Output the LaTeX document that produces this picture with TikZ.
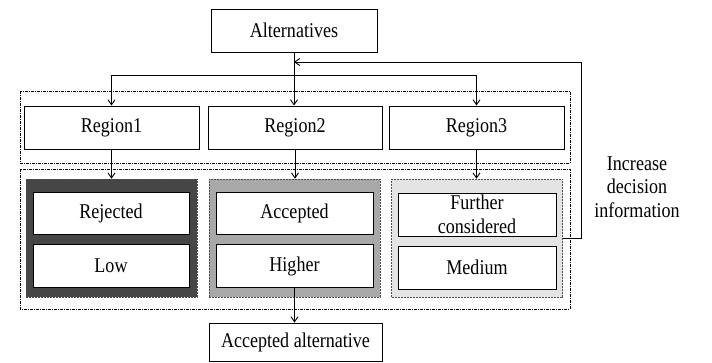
\documentclass[tikz,border=0pt]{standalone}
\usepackage{fontspec}
\setmainfont{Liberation Serif}[FakeStretch=0.86]
\usetikzlibrary{arrows.meta,positioning,calc}
\definecolor{pdark}{HTML}{464646}
\definecolor{pmid}{HTML}{A8A8A8}
\definecolor{plight}{HTML}{E4E4E4}
\begin{document}
\begin{tikzpicture}[x=1pt,y=-1pt,
  font=\fontsize{21}{24}\selectfont,
  box/.style={draw=black,line width=1pt,fill=white,inner sep=1pt,minimum height=43pt,align=center},
  panel/.style={draw=black!70,line width=0.6pt,dash pattern=on 2pt off 1pt,minimum width=171pt,minimum height=118pt,inner sep=0pt},
  group/.style={draw=black,line width=0.7pt,dash pattern=on 3pt off 1pt on 1pt off 1pt},
  arr/.style={draw=black,line width=0.9pt,-{Straight Barb[length=5pt,width=7pt]}},
  ln/.style={draw=black,line width=0.9pt}]
\useasboundingbox (0,0) rectangle (712,362);
\fill[white] (0,0) rectangle (712,362);

\node[box,minimum width=166pt] (alt) at (294,30.5) {Alternatives};

\draw[group] (20,91) rectangle (570,163);
\draw[group] (20,169) rectangle (570,309);

\node[box,minimum width=175pt] (r1) at (111.5,127.5) {Region1};
\node[box,minimum width=174pt] (r2) at (295,127.5) {Region2};
\node[box,minimum width=175pt] (r3) at (476.5,127.5) {Region3};

\node[panel,fill=pdark] (p1) at (111.5,238) {};
\node[panel,fill=pmid] (p2) at (294.5,238) {};
\node[panel,fill=plight] (p3) at (477,238) {};

\node[box,minimum width=156pt,minimum height=42pt] (rej) at (111,213) {Rejected};
\node[box,minimum width=156pt] (low) at (111,265.5) {Low};
\node[box,minimum width=157pt,minimum height=42pt] (acc) at (294.5,213) {Accepted};
\node[box,minimum width=157pt] (hig) at (294.5,266) {Higher};
\node[box,minimum width=158pt,inner sep=0pt] (fur) at (477,214.5) {\fontsize{21}{23}\selectfont Further\\considered};
\node[box,minimum width=158pt] (med) at (477,267.5) {Medium};

\node[box,minimum width=173pt,minimum height=38pt] (fin) at (295.5,342) {Accepted alternative};

\node[align=center,font=\fontsize{21}{23.5}\selectfont] (inc) at (637,187) {Increase\\decision\\information};

% connectors
\coordinate (split) at (294,75);
\coordinate (fb) at (294,62);
\draw[arr] (alt.south) -- (alt.south |- r2.north);
\draw[arr] (split) -| (r1.north);
\draw[arr] (split) -| (r3.north);
\draw[arr] (r1.south) -- (r1.south |- p1.north);
\draw[arr] (r2.south) -- (r2.south |- p2.north);
\draw[arr] (r3.south) -- (r3.south |- p3.north);
\draw[arr] (hig.south) -- (hig.south |- fin.north);
\draw[arr] (p3.east) -- ++(19,0) |- (fb);
\end{tikzpicture}
\end{document}
